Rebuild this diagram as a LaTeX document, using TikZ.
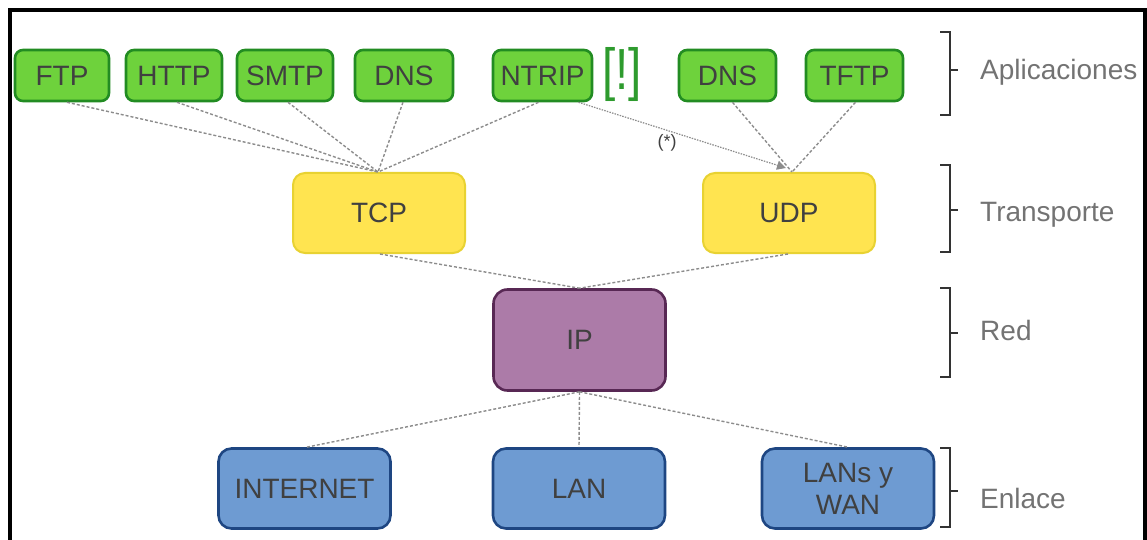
\documentclass[tikz,border=0pt]{standalone}
\usepackage{fontspec}
\setmainfont{Liberation Sans}
\usetikzlibrary{arrows.meta,calc}

\definecolor{appfill}{RGB}{110,210,60}
\definecolor{appline}{RGB}{34,140,34}
\definecolor{bangcol}{RGB}{46,155,46}
\definecolor{trfill}{RGB}{255,228,80}
\definecolor{trline}{RGB}{232,210,50}
\definecolor{ipfill}{RGB}{172,123,168}
\definecolor{ipline}{RGB}{88,40,84}
\definecolor{lkfill}{RGB}{110,155,210}
\definecolor{lkline}{RGB}{30,70,130}
\definecolor{labelgray}{RGB}{64,64,64}
\definecolor{layergray}{RGB}{115,115,115}
\definecolor{linkgray}{RGB}{140,140,140}

\begin{document}
\begin{tikzpicture}[x=1pt,y=-1pt,
  box/.style={inner sep=0pt, text=labelgray, align=center,
    font=\fontsize{28}{32}\selectfont},
  app/.style={box, fill=appfill, draw=appline, line width=2.6pt,
    minimum height=51pt, rounded corners=8pt},
  trans/.style={box, fill=trfill, draw=trline, line width=2pt,
    minimum width=172pt, minimum height=80pt, rounded corners=12pt},
  net/.style={box, fill=ipfill, draw=ipline, line width=2.6pt,
    minimum width=172pt, minimum height=101pt, rounded corners=14pt},
  link/.style={box, fill=lkfill, draw=lkline, line width=2.6pt,
    minimum width=172pt, minimum height=80pt, rounded corners=13pt},
  wire/.style={draw=linkgray, line width=1.4pt, dash pattern=on 3pt off 2pt},
  dotwire/.style={draw=linkgray, line width=1.2pt, dash pattern=on 1.5pt off 1.2pt},
  layerbrace/.style={draw=black!80, line width=1.3pt},
  layername/.style={anchor=west, text=layergray, inner sep=0pt,
    font=\fontsize{28}{32}\selectfont},
]
\useasboundingbox (0,0) rectangle (1147,540);

% outer frame
\draw[line width=4pt] (9.5,10.5) rectangle (1144.5,600);

% application layer
\node[app, minimum width=94pt]  (ftp)   at (62,75.5)  {FTP};
\node[app, minimum width=96pt]  (http)  at (174,75.5) {HTTP};
\node[app, minimum width=96pt]  (smtp)  at (285,75.5) {SMTP};
\node[app, minimum width=98pt]  (dns)   at (404,75.5) {DNS};
\node[app, minimum width=99pt]  (ntrip) at (542.5,75.5) {NTRIP};
\node[app, minimum width=97pt]  (dnsb)  at (727.5,75.5) {DNS};
\node[app, minimum width=97pt]  (tftp)  at (854.5,75.5) {TFTP};
\node[text=bangcol, inner sep=0pt, font=\fontsize{58}{58}\selectfont,
  xscale=0.82] (bang) at (622,74.5) {[!]};

% transport layer
\node[trans] (tcp) at (379,213) {TCP};
\node[trans] (udp) at (789,213) {UDP};

% network layer
\node[net] (ip) at (579.5,340) {IP};

% link layer
\node[link] (inet) at (304.5,488.5) {INTERNET};
\node[link] (lan)  at (579,488.5)   {LAN};
\node[link] (wan)  at (848,488.5)   {LANs y\\WAN};

% connectors
\coordinate (tcpin) at ($(tcp.north)+(-1,0)$);
\coordinate (udpin) at ($(udp.north)+(3,0)$);
\draw[wire] ($(ftp.south)+(5,0)$)   -- (tcpin);
\draw[wire] ($(http.south)+(3,0)$)  -- (tcpin);
\draw[wire] ($(smtp.south)+(3,0)$)  -- (tcpin);
\draw[wire] ($(dns.south)+(-1,0)$)  -- (tcpin);
\draw[wire] ($(ntrip.south)+(-4,0)$) -- (tcpin);
\draw[wire] ($(dnsb.south)+(5,0)$)  -- (udpin);
\draw[wire] ($(tftp.south)+(1,0)$)  -- (udpin);
\draw[dotwire, -{Triangle[width=9pt,length=9pt]}, linkgray]
  ($(ntrip.south)+(36,0)$) -- ($(udp.north)+(-3,-4)$);
\node[text=labelgray, inner sep=0pt, font=\fontsize{18}{18}\selectfont]
  (star) at (667,143) {(*)};

\draw[wire] ($(tcp.south)+(1,0)$) -- (ip.north);
\draw[wire] ($(udp.south)+(-1,0)$) -- (ip.north);
\draw[wire] (ip.south) -- ($(inet.north)+(2,0)$);
\draw[wire] (ip.south) -- (lan.north);
\draw[wire] (ip.south) -- (wan.north);

% layer brackets and names
\draw[layerbrace] (940,32) -- (950,32) -- (950,115) -- (940,115)
  (950,70) -- (958,70);
\node[layername] (lapp) at (980,72) {Aplicaciones};
\draw[layerbrace] (940,165) -- (950,165) -- (950,252) -- (940,252)
  (950,210) -- (958,210);
\node[layername] (ltr) at (980,215) {Transporte};
\draw[layerbrace] (940,288) -- (950,288) -- (950,377) -- (940,377)
  (950,333) -- (958,333);
\node[layername] (lnet) at (980,330) {Red};
\draw[layerbrace] (940,448) -- (950,448) -- (950,527) -- (940,527)
  (950,491) -- (958,491);
\node[layername] (llink) at (980,498) {Enlace};
\end{tikzpicture}
\end{document}
